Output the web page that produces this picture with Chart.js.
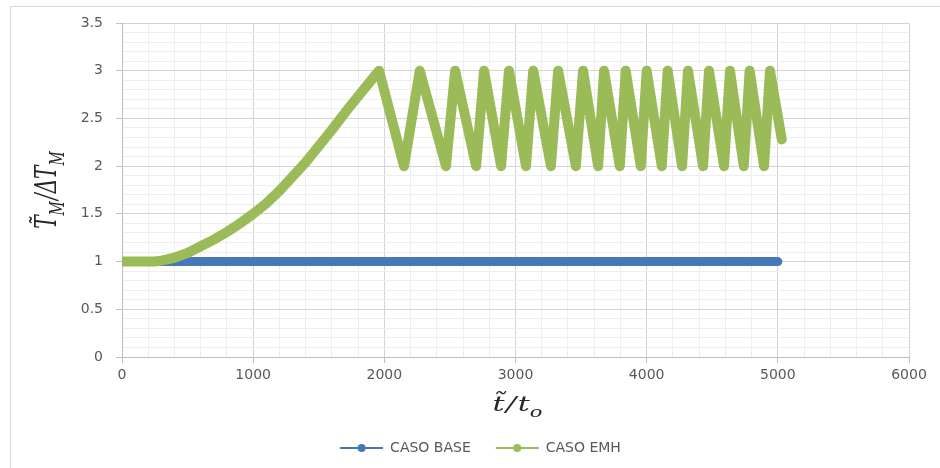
<!DOCTYPE html>
<html>
<head>
<meta charset="utf-8">
<script src="https://cdn.jsdelivr.net/npm/chart.js@4"></script>
<style>
  body { margin: 0; background: #fff; }
  #wrap { width: 940px; height: 468px; position: relative; }
</style>
</head>
<body>
<div id="wrap"><canvas id="chart"></canvas></div>
<script>
// series
const baseT = [0, 500, 1000, 1500, 2000, 2500, 3000, 3500, 4000, 4500, 5000];
const baseValues = [1, 1, 1, 1, 1, 1, 1, 1, 1, 1, 1];

const emhT = [0, 100, 200, 250, 300, 400, 500, 600, 700, 800, 900, 1000, 1100, 1200, 1300, 1400,
  1500, 1600, 1700, 1800, 1900, 1960,
  2150, 2270, 2470, 2540, 2700, 2760, 2890, 2950, 3080, 3135, 3270, 3325, 3460, 3515,
  3630, 3675, 3795, 3840, 3955, 4000, 4115, 4160, 4270, 4315, 4430, 4475, 4590, 4635,
  4740, 4785, 4895, 4940, 5030];
const emhValues = [1, 1, 1, 1, 1.01, 1.04, 1.09, 1.16, 1.23, 1.31, 1.40, 1.50, 1.61, 1.74, 1.89, 2.04,
  2.21, 2.38, 2.56, 2.73, 2.90, 3,
  2, 3, 2, 3, 2, 3, 2, 3, 2, 3, 2, 3, 2, 3,
  2, 3, 2, 3, 2, 3, 2, 3, 2, 3, 2, 3, 2, 3,
  2, 3, 2, 3, 2.28];

const seriesNames = ['CASO BASE', 'CASO EMH'];
const seriesColors = ['#4677b8', '#9bbb59'];

const xMajor = [0, 1000, 2000, 3000, 4000, 5000, 6000];
const yMajor = [0, 0.5, 1, 1.5, 2, 2.5, 3, 3.5];

function isMajor(list, v) {
  return list.some(m => Math.abs(m - v) < 1e-6);
}

function toPoints(xs, ys) {
  return xs.map((x, i) => ({ x: x, y: ys[i] }));
}

// legend marker: line with a dot, like the spreadsheet legend
function legendMark(color) {
  let c = document.createElement('canvas');
  c.width = 55;
  c.height = 12;
  let g = c.getContext('2d');
  g.strokeStyle = color;
  g.lineWidth = 2;
  g.beginPath();
  g.moveTo(12, 6);
  g.lineTo(55, 6);
  g.stroke();
  g.fillStyle = color;
  g.beginPath();
  g.arc(33.5, 6, 4, 0, Math.PI * 2);
  g.fill();
  return c;
}
const marks = seriesColors.map(legendMark);

// text pieces drawn one after another, subscripts smaller and lower
function drawPieces(ctx, pieces, size) {
  let total = 0;
  for (let p of pieces) {
    ctx.font = 'italic ' + (p.sub ? size * 0.7 : size) + 'px "DejaVu Serif"';
    total += ctx.measureText(p.t).width + (p.gap || 0);
  }
  let x = -total / 2;
  for (let p of pieces) {
    ctx.font = 'italic ' + (p.sub ? size * 0.7 : size) + 'px "DejaVu Serif"';
    ctx.fillText(p.t, x, p.sub ? size * 0.28 : 0);
    x += ctx.measureText(p.t).width + (p.gap || 0);
  }
}

const titles = {
  id: 'titles',
  afterDraw(chart) {
    let ctx = chart.ctx;
    let area = chart.chartArea;
    ctx.save();

    // frame of the sheet
    ctx.strokeStyle = '#d9d9d9';
    ctx.lineWidth = 1;
    ctx.beginPath();
    ctx.moveTo(10.5, 468);
    ctx.lineTo(10.5, 6.5);
    ctx.lineTo(940, 6.5);
    ctx.stroke();

    ctx.fillStyle = '#262626';
    ctx.textBaseline = 'alphabetic';
    ctx.textAlign = 'left';

    // x title
    ctx.save();
    ctx.translate((area.left + area.right) / 2 + 2, 411);
    ctx.scale(1.5, 1);
    drawPieces(ctx, [
      { t: 't\u0303', gap: 1 },
      { t: '/', gap: 1 },
      { t: 't' },
      { t: 'o', sub: true }
    ], 20);
    ctx.restore();

    // y title
    ctx.save();
    ctx.translate(56, (area.top + area.bottom) / 2);
    ctx.scale(1.5, 1);
    ctx.rotate(-Math.PI / 2);
    drawPieces(ctx, [
      { t: 'T\u0303' },
      { t: 'M', sub: true, gap: 1 },
      { t: '/\u0394T' },
      { t: 'M', sub: true }
    ], 20);
    ctx.restore();

    ctx.restore();
  }
};

const gridColor = ctx => isMajor(ctx.scale.axis === 'x' ? xMajor : yMajor, ctx.tick.value) ? '#d4d4d4' : '#eeeeee';

new Chart(document.getElementById('chart'), {
  type: 'line',
  data: {
    datasets: [
      {
        label: seriesNames[0],
        data: toPoints(baseT, baseValues),
        borderColor: seriesColors[0],
        backgroundColor: seriesColors[0],
        borderWidth: 9,
        order: 1
      },
      {
        label: seriesNames[1],
        data: toPoints(emhT, emhValues),
        borderColor: seriesColors[1],
        backgroundColor: seriesColors[1],
        borderWidth: 10,
        order: 0
      }
    ]
  },
  options: {
    responsive: true,
    maintainAspectRatio: false,
    animation: false,
    layout: { padding: { top: 23, right: 31, left: 40, bottom: 3 } },
    elements: {
      line: { tension: 0, borderCapStyle: 'round', borderJoinStyle: 'round' },
      point: { radius: 0, hoverRadius: 0 }
    },
    scales: {
      x: {
        type: 'linear',
        min: 0,
        max: 6000,
        afterFit: s => { s.height = 71; },
        ticks: {
          stepSize: 200,
          autoSkip: false,
          maxRotation: 0,
          padding: 4,
          color: '#595959',
          font: { family: 'DejaVu Sans', size: 14 },
          callback: v => isMajor(xMajor, v) ? String(v) : ''
        },
        grid: {
          color: gridColor,
          tickColor: ctx => isMajor(xMajor, ctx.tick.value) ? '#bfbfbf' : 'rgba(0,0,0,0)',
          tickLength: 6
        },
        border: { color: '#bfbfbf' }
      },
      y: {
        min: 0,
        max: 3.5,
        afterFit: s => { s.width = 82; },
        ticks: {
          stepSize: 0.1,
          autoSkip: false,
          padding: 13,
          color: '#595959',
          font: { family: 'DejaVu Sans', size: 14 },
          callback: v => isMajor(yMajor, v) ? String(Math.round(v * 10) / 10) : ''
        },
        grid: {
          color: gridColor,
          tickColor: ctx => isMajor(yMajor, ctx.tick.value) ? '#bfbfbf' : 'rgba(0,0,0,0)',
          tickLength: 6
        },
        border: { color: '#bfbfbf' }
      }
    },
    plugins: {
      tooltip: { enabled: false },
      legend: {
        position: 'bottom',
        labels: {
          usePointStyle: true,
          pointStyleWidth: 55,
          padding: 13,
          color: '#595959',
          font: { family: 'DejaVu Sans', size: 14 },
          generateLabels: chart => chart.data.datasets.map((ds, i) => ({
            text: ds.label,
            fillStyle: ds.borderColor,
            strokeStyle: ds.borderColor,
            lineWidth: 0,
            pointStyle: marks[i],
            hidden: false,
            datasetIndex: i,
            fontColor: '#595959'
          }))
        }
      }
    }
  },
  plugins: [titles]
});
</script>
</body>
</html>
